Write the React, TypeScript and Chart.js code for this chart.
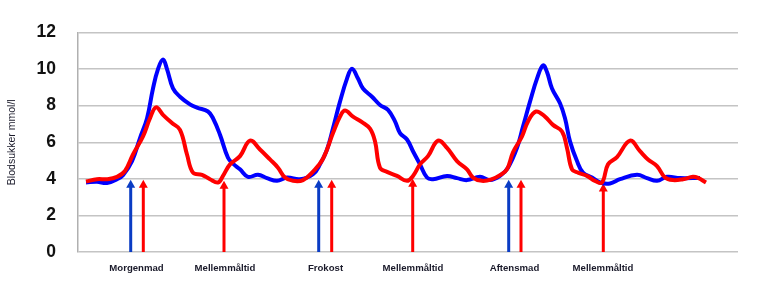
import React, { useEffect, useRef } from "react";
import { Chart, registerables } from "chart.js";

Chart.register(...registerables);

// x values are time units across the day (0..66)
const blueX = [0.8, 1.9, 2.9, 3.9, 4.5, 5.4, 6.2, 6.9, 7.5, 8.0, 8.5, 8.9, 9.5, 10.2, 11.2, 11.9, 13.0, 13.5, 14.2, 15.0, 15.5, 16.2, 17.0, 18.0, 18.9, 19.9, 20.9, 22.2, 23.5, 24.2, 24.9, 25.5, 26.2, 26.9, 27.4, 28.0, 28.5, 29.4, 30.2, 31.0, 31.7, 32.2, 32.9, 33.5, 34.2, 34.9, 35.5, 36.9, 37.9, 38.9, 40.2, 41.2, 42.2, 43.0, 43.9, 44.5, 45.2, 45.9, 46.5, 46.9, 47.4, 48.2, 48.7, 49.2, 49.9, 50.5, 51.4, 52.2, 53.2, 54.2, 55.9, 56.9, 57.9, 58.9, 60.2, 62.2];
const blueY = [3.8, 3.84, 3.77, 3.98, 4.2, 4.97, 6.23, 7.3, 8.94, 10.0, 10.52, 10.0, 8.94, 8.49, 8.07, 7.89, 7.68, 7.31, 6.41, 5.15, 4.83, 4.52, 4.11, 4.22, 4.04, 3.89, 4.07, 3.98, 4.25, 4.79, 5.6, 6.77, 8.22, 9.48, 10.02, 9.48, 8.94, 8.49, 8.04, 7.77, 7.14, 6.5, 6.15, 5.51, 4.79, 4.07, 3.98, 4.16, 4.04, 3.93, 4.11, 3.93, 4.16, 4.61, 5.69, 6.86, 8.22, 9.48, 10.2, 9.84, 8.94, 8.13, 7.31, 6.05, 4.97, 4.34, 4.07, 3.8, 3.75, 3.98, 4.22, 4.04, 3.89, 4.11, 4.04, 4.05];

const redX = [0.8, 1.9, 2.9, 3.9, 4.7, 5.5, 6.5, 7.2, 7.8, 8.5, 9.4, 10.2, 10.9, 11.5, 12.4, 13.2, 14.0, 14.5, 15.2, 16.2, 17.2, 18.2, 19.2, 20.0, 20.7, 21.5, 22.5, 23.5, 24.5, 25.5, 26.2, 26.7, 27.5, 28.4, 29.2, 29.7, 30.2, 30.9, 31.9, 32.9, 33.5, 34.2, 35.0, 36.0, 36.9, 37.9, 38.9, 39.5, 40.4, 41.4, 42.2, 42.9, 43.5, 44.4, 45.0, 45.8, 46.7, 47.5, 48.4, 48.9, 49.4, 50.0, 50.9, 51.7, 52.4, 53.0, 53.9, 55.2, 56.2, 57.0, 57.9, 58.7, 59.5, 60.5, 61.5, 62.0, 62.8];
const redY = [3.85, 3.98, 3.98, 4.11, 4.43, 5.33, 6.32, 7.31, 7.91, 7.5, 7.05, 6.68, 5.33, 4.34, 4.22, 3.98, 3.8, 4.16, 4.79, 5.24, 6.09, 5.6, 5.06, 4.61, 4.07, 3.89, 3.93, 4.4, 5.1, 6.5, 7.4, 7.73, 7.4, 7.1, 6.74, 6.05, 4.61, 4.38, 4.16, 3.89, 4.16, 4.79, 5.24, 6.09, 5.69, 4.97, 4.52, 4.07, 3.89, 3.98, 4.2, 4.52, 5.45, 6.32, 7.14, 7.68, 7.4, 6.95, 6.59, 5.69, 4.52, 4.34, 4.16, 3.89, 3.8, 4.79, 5.19, 6.09, 5.51, 5.06, 4.7, 4.07, 3.93, 3.98, 4.11, 4.05, 3.8];

const blueArrowX = [5.27, 24.07, 43.07];
const blueArrowTop = [3.95, 3.95, 3.95];
const redArrowX = [6.53, 14.6, 25.37, 33.47, 44.3, 52.53];
const redArrowTop = [3.95, 3.9, 3.95, 4.0, 3.95, 3.75];

const mealLabels = ["Morgenmad", "Mellemmåltid", "Frokost", "Mellemmåltid", "Aftensmad", "Mellemmåltid"];
const mealLabelX = [5.85, 14.7, 24.75, 33.5, 43.65, 52.5];

const yTicks = [0, 2, 4, 6, 8, 10, 12];

const arrowPlugin = {
  id: "mealArrows",
  beforeDatasetsDraw(chart: any) {
    const { ctx, scales } = chart;
    const xs = scales.x;
    const ys = scales.y;
    const draw = (arr: number[], tops: number[], color: string) => {
      arr.forEach((v, i) => {
        const px = xs.getPixelForValue(v);
        const y0 = ys.getPixelForValue(0);
        const y1 = ys.getPixelForValue(tops[i]);
        ctx.save();
        ctx.strokeStyle = color;
        ctx.lineWidth = 3;
        ctx.beginPath();
        ctx.moveTo(px, y0);
        ctx.lineTo(px, y1 + 6);
        ctx.stroke();
        ctx.fillStyle = color;
        ctx.beginPath();
        ctx.moveTo(px, y1);
        ctx.lineTo(px - 4.5, y1 + 8);
        ctx.lineTo(px + 4.5, y1 + 8);
        ctx.closePath();
        ctx.fill();
        ctx.restore();
      });
    };
    draw(blueArrowX, blueArrowTop, "#0a3cc4");
    draw(redArrowX, redArrowTop, "#ff0000");
  },
};

export default function App() {
  const ref = useRef<HTMLCanvasElement | null>(null);
  useEffect(() => {
    document.body.style.margin = "0";
    if (!ref.current) return;
    const chart = new Chart(ref.current, {
      type: "line",
      data: {
        datasets: [
          {
            label: "Rød",
            data: redX.map((x, i) => ({ x, y: redY[i] })),
            borderColor: "#ff0000",
            borderWidth: 4,
            pointRadius: 0,
            tension: 0.4,
            fill: false,
          },
          {
            label: "Blå",
            data: blueX.map((x, i) => ({ x, y: blueY[i] })),
            borderColor: "#0000ff",
            borderWidth: 4,
            pointRadius: 0,
            tension: 0.4,
            fill: false,
          },
        ],
      },
      options: {
        responsive: false,
        animation: false,
        layout: { padding: { top: 30, right: 19, left: 0, bottom: 0 } },
        plugins: { legend: { display: false }, tooltip: { enabled: false } },
        scales: {
          x: {
            type: "linear",
            min: 0,
            max: 66,
            grid: { display: false, drawTicks: false },
            border: { display: false },
            afterBuildTicks: (scale: any) => {
              scale.ticks = mealLabelX.map((v) => ({ value: v }));
            },
            afterFit: (scale: any) => {
              scale.height = 35;
            },
            ticks: {
              autoSkip: false,
              maxRotation: 0,
              padding: 11,
              color: "#1a1a2a",
              font: { family: "'Liberation Sans', Arial, sans-serif", size: 9.6, weight: "bold" },
              callback: (_v: any, i: number) => mealLabels[i],
            },
          },
          y: {
            min: 0,
            max: 12,
            afterBuildTicks: (scale: any) => {
              scale.ticks = yTicks.map((v) => ({ value: v }));
            },
            afterFit: (scale: any) => {
              scale.width = 78;
            },
            grid: { color: "#c4c4c4", lineWidth: 1.5, drawTicks: false },
            border: { display: true, color: "#b0b0b0", width: 1.5 },
            ticks: {
              padding: 22,
              color: "#111",
              font: { family: "'Liberation Sans', Arial, sans-serif", size: 17.5, weight: "bold" },
            },
            title: {
              display: true,
              text: "Blodsukker mmol/l",
              color: "#1a1a2a",
              padding: { top: 6, bottom: 0 },
              font: { family: "'Liberation Sans', Arial, sans-serif", size: 10.5 },
            },
          },
        },
      },
      plugins: [arrowPlugin],
    } as any);
    return () => chart.destroy();
  }, []);
  return <canvas ref={ref} width={757} height={287} style={{ display: "block" }} />;
}
